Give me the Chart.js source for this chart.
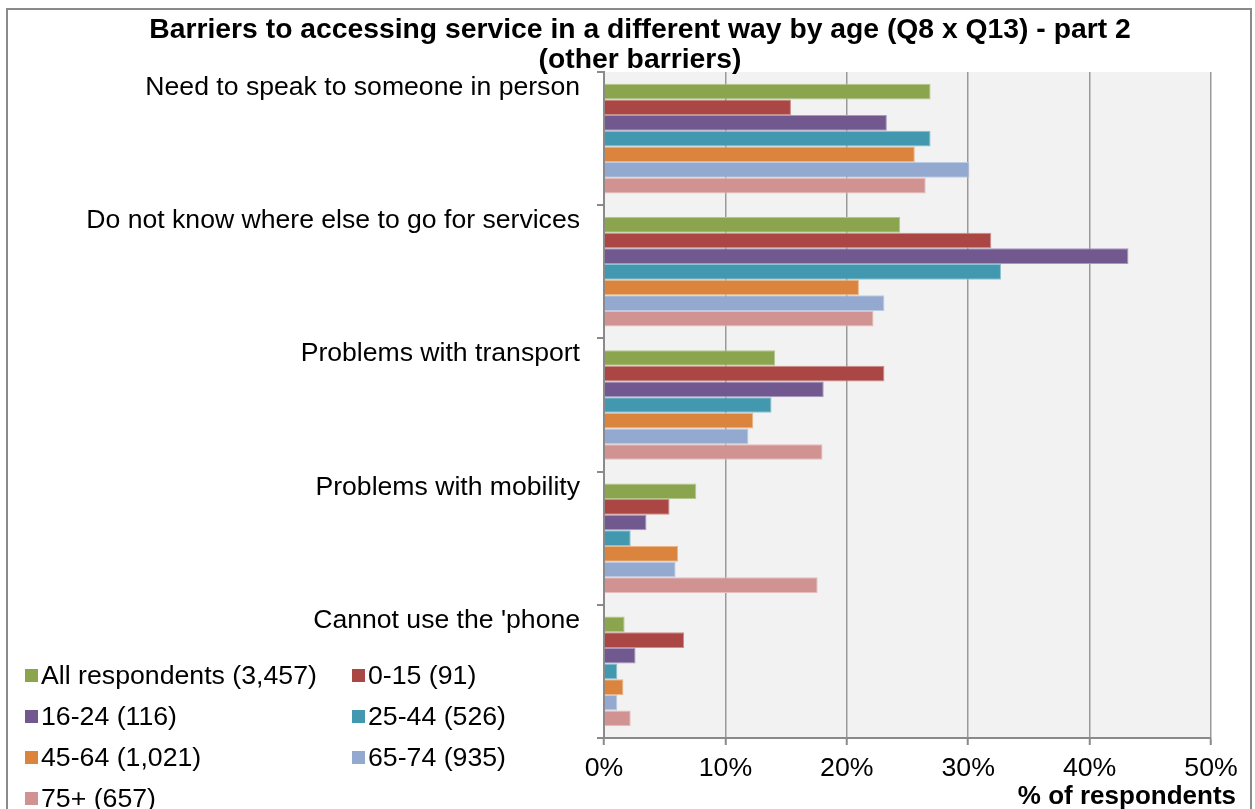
<!DOCTYPE html>
<html>
<head>
<meta charset="utf-8">
<script src="https://cdn.jsdelivr.net/npm/chart.js@4/dist/chart.umd.min.js"></script>
<style>
  body { margin: 0; background: #fff; }
  #wrap { position: relative; width: 1255px; height: 809px; overflow: hidden; }
  #frame { position: absolute; left: 6px; top: 8px; width: 1246px; height: 820px; border: 2px solid #8a8a8a; box-sizing: border-box; pointer-events: none; }
  #legend { position: absolute; left: 25px; top: 655px; display: grid; grid-template-columns: 327px 200px; grid-auto-rows: 41px;
            font-family: "Liberation Sans", Arial, sans-serif; font-size: 26.7px; color: #000; }
  #legend .item { display: flex; align-items: center; white-space: nowrap; }
  #legend .box { width: 13px; height: 13px; margin-right: 3px; flex: none; }
</style>
</head>
<body>
<div id="wrap">
  <canvas id="chart_barriersByAge"></canvas>
  <div id="frame"></div>
  <div id="legend"></div>
</div>
<script>
var categories = ['Need to speak to someone in person', 'Do not know where else to go for services',
                  'Problems with transport', 'Problems with mobility', "Cannot use the 'phone"];
var seriesNames = ['All respondents (3,457)', '0-15 (91)', '16-24 (116)', '25-44 (526)',
                   '45-64 (1,021)', '65-74 (935)', '75+ (657)'];
var allRespondents = [26.9, 24.4, 14.1, 7.6, 1.7];
var age0to15 = [15.4, 31.9, 23.1, 5.4, 6.6];
var age16to24 = [23.3, 43.2, 18.1, 3.5, 2.6];
var age25to44 = [26.9, 32.7, 13.8, 2.2, 1.1];
var age45to64 = [25.6, 21.0, 12.3, 6.1, 1.6];
var age65to74 = [30.1, 23.1, 11.9, 5.9, 1.1];
var age75plus = [26.5, 22.2, 18.0, 17.6, 2.2];
var xTicks = [0, 10, 20, 30, 40, 50];

var colours = ['#8aa54e', '#aa4644', '#71588f', '#4198af', '#db843d', '#93a9cf', '#d19392'];
var edges = ['#b3c78d', '#cc8d8b', '#a898bd', '#8cc3d1', '#ebb58a', '#bdcbe3', '#e6bdbc'];
var values = [allRespondents, age0to15, age16to24, age25to44, age45to64, age65to74, age75plus];

var font = '"Liberation Sans", Arial, sans-serif';

var datasets = values.map(function (v, i) {
    return {
        label: seriesNames[i],
        data: v,
        backgroundColor: colours[i],
        borderColor: edges[i],
        borderWidth: 1,
        categoryPercentage: 0.823,
        barPercentage: 1
    };
});

var chart_barriersByAge = new Chart(document.getElementById('chart_barriersByAge'), {
    type: 'bar',
    data: { labels: categories, datasets: datasets },
    options: {
        indexAxis: 'y',
        animation: false,
        responsive: true,
        maintainAspectRatio: false,
        layout: { padding: { top: 72, right: 44, bottom: 0, left: 0 } },
        plugins: {
            legend: { display: false },
            title: { display: false },
            tooltip: { enabled: false }
        },
        scales: {
            x: {
                type: 'linear',
                min: 0,
                max: 50,
                afterBuildTicks: function (scale) {
                    scale.ticks = xTicks.map(function (v) { return { value: v }; });
                },
                afterFit: function (scale) {
                    scale.height = 71;
                    scale.paddingLeft = 0;
                    scale.paddingRight = 0;
                },
                ticks: {
                    color: '#000',
                    padding: 8,
                    font: { family: font, size: 26.7 },
                    callback: function (v) { return v + '%'; }
                },
                grid: { color: '#9a9a9a', lineWidth: 1.5, tickLength: 7, tickColor: '#8a8a8a', tickWidth: 2 },
                border: { display: true, color: '#8a8a8a', width: 2 }
            },
            y: {
                type: 'category',
                afterFit: function (scale) {
                    scale.width = 604;
                    scale.paddingTop = 0;
                    scale.paddingBottom = 0;
                },
                ticks: {
                    color: '#000',
                    padding: 17,
                    labelOffset: -51,
                    font: { family: font, size: 26.6 }
                },
                grid: { drawOnChartArea: false, tickLength: 7, color: '#8a8a8a', lineWidth: 2 },
                border: { display: true, color: '#8a8a8a', width: 2 }
            }
        }
    },
    plugins: [{
        id: 'plotBackground',
        beforeDraw: function (chart) {
            var ctx = chart.ctx, a = chart.chartArea;
            ctx.save();
            ctx.fillStyle = '#fff';
            ctx.fillRect(0, 0, chart.width, chart.height);
            ctx.fillStyle = '#f2f2f2';
            ctx.fillRect(a.left, a.top, a.right - a.left, a.bottom - a.top);
            ctx.restore();
        }
    }, {
        id: 'chartTexts',
        afterDraw: function (chart) {
            var ctx = chart.ctx;
            ctx.save();
            ctx.fillStyle = '#000';
            ctx.font = 'bold 28.3px ' + font;
            ctx.textBaseline = 'middle';
            ctx.textAlign = 'center';
            ctx.fillText('Barriers to accessing service in a different way by age (Q8 x Q13) - part 2', 640, 30);
            ctx.fillText('(other barriers)', 640, 60);
            ctx.font = 'bold 26px ' + font;
            ctx.textAlign = 'right';
            ctx.fillText('% of respondents', 1236, 797);
            ctx.restore();
        }
    }]
});

var legendEl = document.getElementById('legend');
datasets.forEach(function (ds) {
    var item = document.createElement('div');
    item.className = 'item';
    var box = document.createElement('span');
    box.className = 'box';
    box.style.background = ds.backgroundColor;
    var txt = document.createElement('span');
    txt.textContent = ds.label;
    item.appendChild(box);
    item.appendChild(txt);
    legendEl.appendChild(item);
});
</script>
</body>
</html>
